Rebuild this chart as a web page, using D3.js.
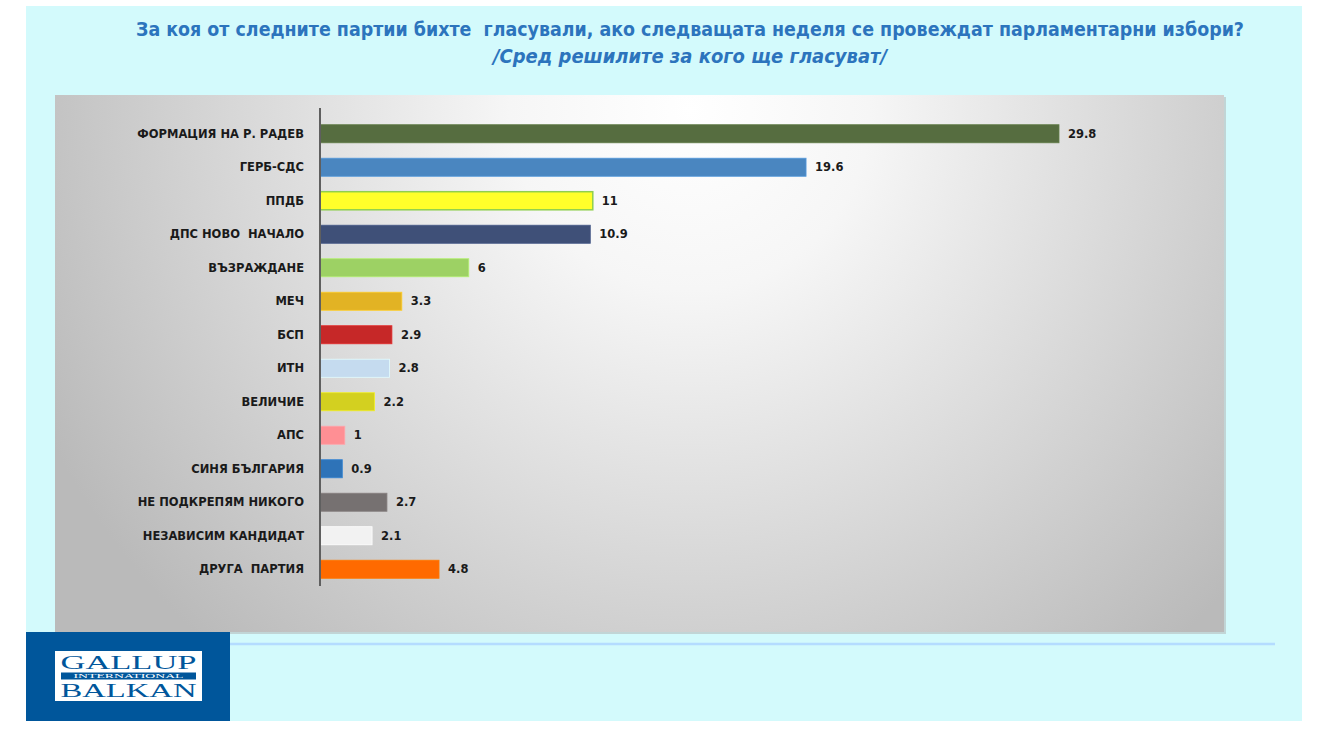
<!DOCTYPE html>
<html>
<head>
<meta charset="utf-8">
<script src="https://cdn.jsdelivr.net/npm/d3@7"></script>
<style>
  html, body { margin: 0; padding: 0; background: #fff; }
  svg { display: block; }
</style>
</head>
<body>
<svg id="chart" width="1323" height="747"></svg>
<script>
// party names, top to bottom
const parties = [
  "ФОРМАЦИЯ НА Р. РАДЕВ", "ГЕРБ-СДС", "ППДБ", "ДПС НОВО  НАЧАЛО", "ВЪЗРАЖДАНЕ",
  "МЕЧ", "БСП", "ИТН", "ВЕЛИЧИЕ", "АПС", "СИНЯ БЪЛГАРИЯ",
  "НЕ ПОДКРЕПЯМ НИКОГО", "НЕЗАВИСИМ КАНДИДАТ", "ДРУГА  ПАРТИЯ"
];
const shares = [29.8, 19.6, 11, 10.9, 6, 3.3, 2.9, 2.8, 2.2, 1, 0.9, 2.7, 2.1, 4.8];
const barColors = [
  "#566d40", "#4a86c0", "#ffff2a", "#3f5078", "#9dd164",
  "#e2b324", "#c62828", "#c5dbef", "#d3d020", "#ff8f94", "#2e73b8",
  "#767171", "#f2f2f2", "#ff6a00"
];
const titleText = "За коя от следните партии бихте  гласували, ако следващата неделя се провеждат парламентарни избори?";
const subtitleText = "/Сред решилите за кого ще гласуват/";

const svg = d3.select("#chart");
const defs = svg.append("defs");

// light cyan slide panel
svg.append("rect")
  .attr("x", 26).attr("y", 6).attr("width", 1276).attr("height", 715)
  .attr("fill", "#d3fafc");

// title
svg.append("text")
  .attr("x", 690).attr("y", 36)
  .attr("text-anchor", "middle")
  .attr("textLength", 1108).attr("lengthAdjust", "spacingAndGlyphs")
  .style("font", "bold 19px 'DejaVu Sans Condensed', 'DejaVu Sans', sans-serif")
  .style("white-space", "pre")
  .attr("fill", "#2c74bd")
  .text(titleText);
svg.append("text")
  .attr("x", 690).attr("y", 63)
  .attr("text-anchor", "middle")
  .attr("textLength", 394).attr("lengthAdjust", "spacingAndGlyphs")
  .style("font", "italic bold 19px 'DejaVu Sans Condensed', 'DejaVu Sans', sans-serif")
  .attr("fill", "#2c74bd")
  .text(subtitleText);

// plot area background
const bg = defs.append("radialGradient").attr("id", "plotBg")
  .attr("gradientUnits", "userSpaceOnUse")
  .attr("cx", 690).attr("cy", 110).attr("r", 720);
bg.append("stop").attr("offset", "0%").attr("stop-color", "#ffffff");
bg.append("stop").attr("offset", "25%").attr("stop-color", "#f6f6f6");
bg.append("stop").attr("offset", "100%").attr("stop-color", "#bababa");

svg.append("rect")
  .attr("x", 57).attr("y", 97).attr("width", 1169).attr("height", 537)
  .attr("fill", "#b0b0b0").attr("opacity", 0.5);
svg.append("rect")
  .attr("x", 55).attr("y", 95).attr("width", 1169).attr("height", 537)
  .attr("fill", "url(#plotBg)");

// scales
const x = d3.scaleLinear().domain([0, 29.8]).range([320, 1059]);
const y = d3.scaleBand().domain(parties).range([117, 586]).paddingInner(0.46).paddingOuter(0.23);

const g = svg.append("g");

g.selectAll(".bar")
  .data(parties)
  .join("rect")
  .attr("class", "bar")
  .attr("x", x(0))
  .attr("y", d => y(d))
  .attr("width", (d, i) => x(shares[i]) - x(0))
  .attr("height", y.bandwidth())
  .attr("fill", (d, i) => barColors[i])
  .attr("stroke", (d, i) => i === 2 ? "#8fcf4e" : d3.color(barColors[i]).brighter(0.4))
  .attr("stroke-width", (d, i) => i === 2 ? 1.5 : 0.8);

const labelFont = "bold 11.5px 'DejaVu Sans', sans-serif";

// category labels
g.selectAll(".cat")
  .data(parties)
  .join("text")
  .attr("class", "cat")
  .attr("x", 304)
  .attr("y", d => y(d) + y.bandwidth() / 2)
  .attr("dy", "0.35em")
  .attr("text-anchor", "end")
  .style("font", labelFont)
  .style("white-space", "pre")
  .attr("fill", "#1a1a1a")
  .text(d => d);

// value labels
g.selectAll(".val")
  .data(parties)
  .join("text")
  .attr("class", "val")
  .attr("x", (d, i) => x(shares[i]) + 9)
  .attr("y", d => y(d) + y.bandwidth() / 2)
  .attr("dy", "0.35em")
  .style("font", labelFont)
  .attr("fill", "#1a1a1a")
  .text((d, i) => shares[i]);

// category axis line
svg.append("line")
  .attr("x1", 320).attr("x2", 320).attr("y1", 108).attr("y2", 586)
  .attr("stroke", "#5f5f5f").attr("stroke-width", 2);

// rule under the chart
svg.append("line")
  .attr("x1", 230).attr("x2", 1275).attr("y1", 644).attr("y2", 644)
  .attr("stroke", "#b4dcff").attr("stroke-width", 2.5);

// Gallup logo block
const logo = svg.append("g");
logo.append("rect").attr("x", 26).attr("y", 632).attr("width", 204).attr("height", 89).attr("fill", "#00569b");
logo.append("rect").attr("x", 55).attr("y", 651).attr("width", 147).attr("height", 50).attr("fill", "#ffffff");
logo.append("text").attr("x", 128.5).attr("y", 669)
  .attr("text-anchor", "middle").attr("textLength", 136).attr("lengthAdjust", "spacingAndGlyphs")
  .style("font", "18px 'Liberation Serif', serif").attr("fill", "#00569b").text("GALLUP");
logo.append("rect").attr("x", 61).attr("y", 672.5).attr("width", 135).attr("height", 7).attr("fill", "#00569b");
logo.append("text").attr("x", 128.5).attr("y", 678.4)
  .attr("text-anchor", "middle").attr("textLength", 110).attr("lengthAdjust", "spacingAndGlyphs")
  .style("font", "5.5px 'Liberation Serif', serif").attr("fill", "#ffffff").text("INTERNATIONAL");
logo.append("text").attr("x", 128.5).attr("y", 697)
  .attr("text-anchor", "middle").attr("textLength", 136).attr("lengthAdjust", "spacingAndGlyphs")
  .style("font", "18px 'Liberation Serif', serif").attr("fill", "#00569b").text("BALKAN");
</script>
</body>
</html>
